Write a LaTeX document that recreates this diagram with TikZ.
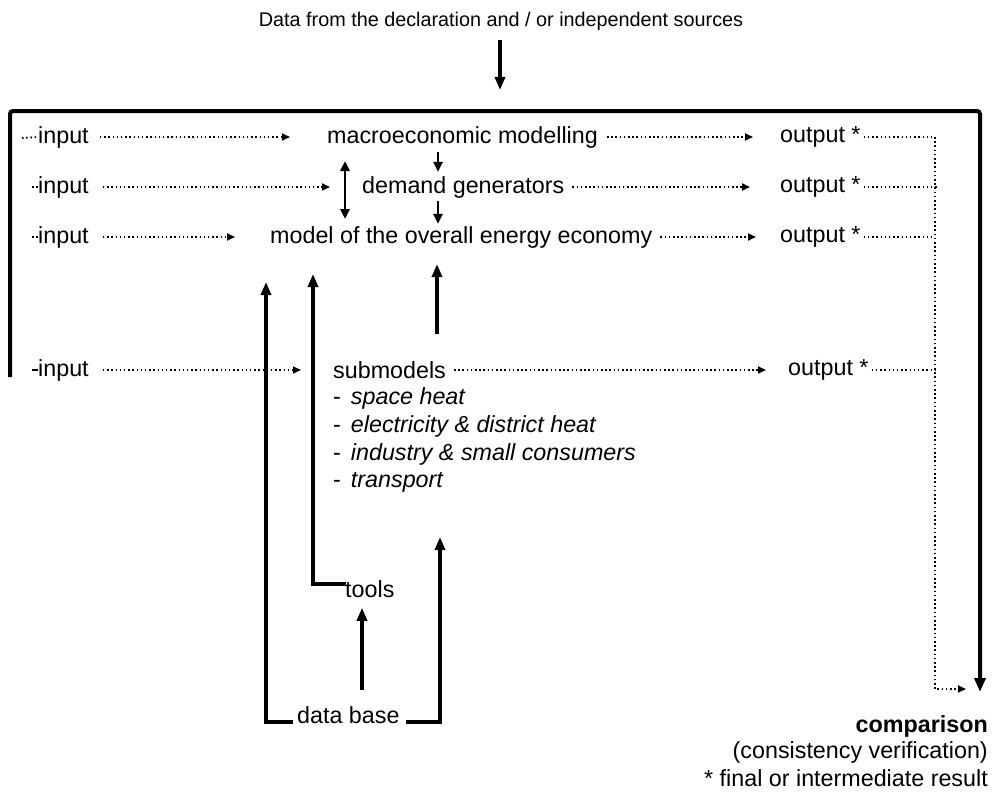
\documentclass[tikz,border=0pt]{standalone}
\usepackage{fontspec}
\setmainfont{Liberation Sans}
\usetikzlibrary{arrows.meta}
\begin{document}
\begin{tikzpicture}[x=1pt,y=-1pt,
  txt/.style={font=\fontsize{23.3}{28}\selectfont, inner sep=0pt, anchor=west},
  dotline/.style={line width=1.8pt, dash pattern=on 1.5pt off 2.7pt},
  dotarr/.style={dotline, -{Triangle[length=8pt,width=7pt]}},
  solid arr/.style={line width=3.2pt, -{Triangle[length=13pt,width=10pt]}},
  small arr/.style={line width=2.6pt, -{Triangle[length=10pt,width=9pt]}},
  small both/.style={line width=2.6pt, {Triangle[length=10pt,width=9pt]}-{Triangle[length=10pt,width=9pt]}},
  frame/.style={line width=4pt}
]
\useasboundingbox (0,0) rectangle (1002,792);

% title
\node[txt, anchor=center, font=\fontsize{19.8}{24}\selectfont] (title) at (501,21) {Data from the declaration and / or independent sources};
\coordinate (ttop) at (500,40);
\coordinate (tbot) at (500,90);
\draw[solid arr] (ttop) -- (tbot);

% frame
\coordinate (fl) at (10,377);
\coordinate (ftl) at (10,111);
\coordinate (ftr) at (980,111);
\coordinate (fend) at (980,692);
\draw[frame, rounded corners=3pt, -{Triangle[length=14pt,width=11pt]}] (fl) -- (ftl) -- (ftr) -- (fend);

% row 1
\node[txt] (in1) at (38,137) {input};
\node[txt] (macro) at (327,137) {macroeconomic modelling};
\node[txt] (out1) at (780,137) {output *};
% row 2
\node[txt] (in2) at (38,187) {input};
\node[txt] (demand) at (362,187) {demand generators};
\node[txt] (out2) at (780,187) {output *};
% row 3
\node[txt] (in3) at (38,237) {input};
\node[txt] (model) at (270,237) {model of the overall energy economy};
\node[txt] (out3) at (780,237) {output *};
% row 4
\node[txt] (in4) at (38,370) {input};
\node[txt] (sub) at (333,370) {submodels};
\node[txt] (out4) at (788,370) {output *};
\node[txt] (l1) at (333,398) {-\hspace{10pt}\textit{space heat}};
\node[txt] (l2) at (333,426) {-\hspace{10pt}\textit{electricity \& district heat}};
\node[txt] (l3) at (333,454) {-\hspace{10pt}\textit{industry \& small consumers}};
\node[txt] (l4) at (333,482) {-\hspace{10pt}\textit{transport}};

\node[txt] (tools) at (345,589) {tools};
\node[txt] (db) at (297,715) {data base};

% comparison
\node[font=\fontsize{23.3}{28}\selectfont\bfseries, inner sep=0pt, anchor=east] (cmp) at (988,726) {comparison};
\node[txt, anchor=east] (cons) at (988,752) {(consistency verification)};
\node[txt, anchor=east] (fin) at (988,778) {* final or intermediate result};

% input stubs
\coordinate (s1a) at (22,138);
\draw[dotline] (s1a) -- (in1.west);
\coordinate (s2a) at (32,187);
\draw[dotline] (s2a) -- (in2.west);
\coordinate (s3a) at (32,237);
\draw[dotline] (s3a) -- (in3.west);
\coordinate (s4a) at (32,370);
\draw[line width=1.2pt] (s4a) -- (in4.west);

% dotted arrows into the models
\coordinate (a1) at (290,137);
\draw[dotarr] ([xshift=11pt]in1.east) -- (a1);
\coordinate (a2) at (330,187);
\draw[dotarr] ([xshift=14pt]in2.east) -- (a2);
\coordinate (a3) at (235,237);
\draw[dotarr] ([xshift=14pt]in3.east) -- (a3);
\coordinate (a4) at (301,370);
\draw[dotarr] ([xshift=14pt]in4.east) -- (a4);

% dotted arrows to the outputs
\draw[dotarr] ([xshift=9pt]macro.east) -- ([xshift=-27pt]out1.west);
\draw[dotarr] ([xshift=8pt]demand.east) -- ([xshift=-30pt]out2.west);
\draw[dotarr] ([xshift=8pt]model.east) -- ([xshift=-24pt]out3.west);
\draw[dotarr] ([xshift=8pt]sub.east) -- ([xshift=-22pt]out4.west);

% outputs to comparison
\coordinate (v1) at (935,137);
\coordinate (v2) at (935,187);
\coordinate (v3) at (935,237);
\coordinate (v4) at (935,370);
\coordinate (vb) at (935,689);
\coordinate (ve) at (966,689);
\draw[dotline] ([xshift=3pt]out1.east) -- (v1);
\draw[dotline] ([xshift=3pt]out2.east) -- ([xshift=4pt]v2);
\draw[dotline] ([xshift=3pt]out3.east) -- (v3);
\draw[dotline] ([xshift=3pt]out4.east) -- (v4);
\draw[dotarr] (v1) -- (vb) -- (ve);

% vertical arrows between models
\draw[small arr] ([yshift=-4pt]macro.south -| 438,0) -- ([yshift=4pt]demand.north -| 438,0);
\draw[small arr] ([yshift=-3pt]demand.south -| 438,0) -- ([yshift=2pt]model.north -| 438,0);
\coordinate (e1) at (345,161);
\coordinate (e2) at (345,219);
\draw[small both] (e1) -- (e2);

% submodels up to model
\coordinate (u1) at (437,334);
\draw[solid arr] (u1) -- ([yshift=-16pt]model.south -| u1);

% data base left line to model
\coordinate (dbl) at (266,722);
\coordinate (dbl2) at (266,282);
\draw[solid arr] ([xshift=-4pt]dbl -| db.west) -- (dbl) -- (dbl2);
% tools line to model
\coordinate (tl) at (313,584);
\coordinate (tl2) at (313,274);
\draw[solid arr] ([xshift=1pt]tl -| tools.west) -- (tl) -- (tl2);
% data base to tools
\coordinate (dt1) at (362,690);
\draw[solid arr] (dt1) -- ([yshift=-10pt]tools.south -| dt1);
% data base to submodels
\coordinate (dbr) at (440,722);
\coordinate (dbr2) at (440,537);
\draw[solid arr] ([xshift=6pt]dbr -| db.east) -- (dbr) -- (dbr2);
\end{tikzpicture}
\end{document}
